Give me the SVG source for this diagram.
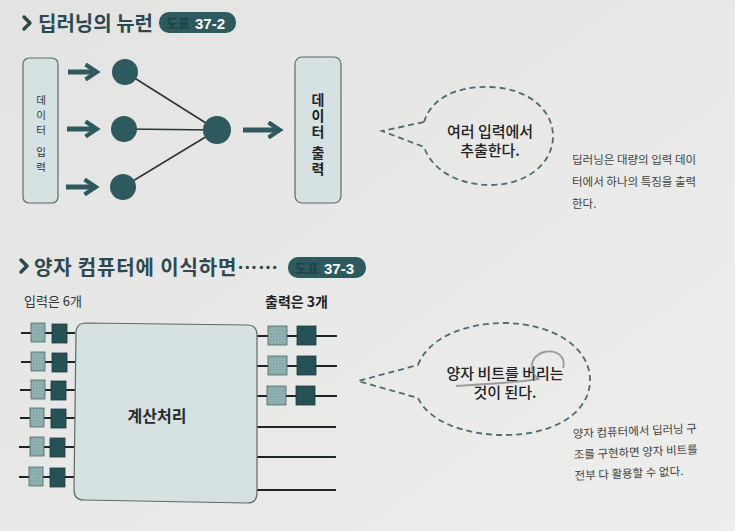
<svg xmlns="http://www.w3.org/2000/svg" width="735" height="531" viewBox="0 0 735 531">
<defs>
<linearGradient id="bg" x1="0" y1="0" x2="1" y2="1">
<stop offset="0" stop-color="#e3e3e1"/>
<stop offset="1" stop-color="#eeeeec"/>
</linearGradient>
<pattern id="dots" width="3" height="3" patternUnits="userSpaceOnUse">
<rect width="3" height="3" fill="#8fb3b2"/>
<rect width="1.5" height="1.5" fill="#7fa3a3"/>
</pattern>
<marker id="ah" viewBox="0 0 10 10" refX="6" refY="5" markerWidth="3.8" markerHeight="3.8" orient="auto" markerUnits="strokeWidth">
<path d="M1 1 L7 5 L1 9" fill="none" stroke="#2d5a5e" stroke-width="2.2" stroke-linejoin="miter"/>
</marker>
</defs>
<style>
.t{font-family:"Noto Sans CJK KR","Noto Sans",sans-serif;}
.title{font-size:20px;font-weight:700;fill:#2b4a4f;}
.bdg{fill:#2d5a5e;}
.bt1{font-size:13px;font-weight:700;fill:#1f4347;}
.bt2{font-size:15px;font-weight:700;fill:#ffffff;font-family:"Liberation Sans",Arial,sans-serif;}
.chev{fill:none;stroke:#2b4a4f;stroke-width:3.5;stroke-linecap:round;stroke-linejoin:round;}
.box{fill:#d6e2e2;stroke:#5c6b6d;stroke-width:1.2;}
.node{fill:#2d5a5e;}
.wire{stroke:#2a3436;stroke-width:1.5;fill:none;}
.fat{stroke:#2d5a5e;stroke-width:5;fill:none;marker-end:url(#ah);}
.bubble{fill:none;stroke:#4d6b70;stroke-width:1.8;stroke-dasharray:6 4;}
.btxt{font-size:15px;font-weight:500;fill:#222;text-anchor:middle;}
.cap{font-size:11.5px;fill:#444;}
.lq{fill:url(#dots);stroke:#4c6668;stroke-width:0.8;}
.dq{fill:#245256;stroke:#1d3c3f;stroke-width:0.8;}
.line{stroke:#1e2526;stroke-width:2;}
.vert{writing-mode:vertical-rl;}
</style>
<rect width="735" height="531" fill="url(#bg)"/>

<g id="title1">
<path class="chev" d="M24 17 L30 23 L24 29"/>
<text class="t title" x="38" y="31">딥러닝의 뉴런</text>
<rect class="bdg" x="159" y="12" width="77" height="21" rx="10"/>
<text class="t bt1" x="166" y="28">도표</text>
<text class="t bt2" x="195" y="29">37-2</text>
</g>

<g id="input-box">
<rect class="box" x="23" y="58" width="35" height="145" rx="6"/>
<text class="t vert" x="41" y="95" font-size="10.5" fill="#333" letter-spacing="4.5">데이터 입력</text>
</g>

<g id="output-box">
<rect class="box" x="295" y="57" width="46" height="146" rx="7"/>
<text class="t vert" x="318" y="93" font-size="14" font-weight="700" fill="#222" letter-spacing="2">데이터 출력</text>
</g>

<g id="connectors">
<line class="wire" x1="125" y1="72" x2="217" y2="130"/>
<line class="wire" x1="124" y1="129" x2="217" y2="130"/>
<line class="wire" x1="123" y1="187" x2="217" y2="130"/>
<line class="fat" x1="68" y1="72" x2="95" y2="72"/>
<line class="fat" x1="67" y1="129" x2="95" y2="129"/>
<line class="fat" x1="66" y1="187" x2="94" y2="187"/>
<line class="fat" x1="243" y1="130" x2="278" y2="130"/>
</g>

<g id="neuron-in1"><circle class="node" cx="125" cy="72" r="13"/></g>
<g id="neuron-in2"><circle class="node" cx="124" cy="129" r="13"/></g>
<g id="neuron-in3"><circle class="node" cx="123" cy="187" r="13"/></g>
<g id="neuron-out"><circle class="node" cx="217" cy="130" r="14"/></g>

<g id="bubble1">
<path class="bubble" d="M424 122 C432 96 460 86 490 87 C528 88 553 110 553 136 C553 164 526 185 490 185 C458 185 432 170 424 147 L382 131 Z"/>
<text class="t btxt" x="490" y="137">여러 입력에서</text>
<text class="t btxt" x="490" y="156">추출한다.</text>
</g>

<g id="caption1" class="t cap">
<text x="572" y="164">딥러닝은 대량의 입력 데이</text>
<text x="572" y="186">터에서 하나의 특징을 출력</text>
<text x="572" y="208">한다.</text>
</g>

<g id="title2">
<path class="chev" d="M21 260 L27 266 L21 272"/>
<text class="t title" x="34" y="275" textLength="244" lengthAdjust="spacing">양자 컴퓨터에 이식하면……</text>
<rect class="bdg" x="288" y="257" width="78" height="21" rx="10"/>
<text class="t bt1" x="295" y="273">도표</text>
<text class="t bt2" x="324" y="274">37-3</text>
</g>

<g id="labels" class="t">
<text x="24" y="306" font-size="13" fill="#333">입력은 6개</text>
<text x="265" y="307" font-size="14" font-weight="700" fill="#222">출력은 3개</text>
</g>

<g id="inputs">
<line class="line" x1="21" y1="333" x2="75" y2="333"/>
<line class="line" x1="21" y1="362" x2="75" y2="362"/>
<line class="line" x1="20" y1="390" x2="75" y2="390"/>
<line class="line" x1="20" y1="418" x2="75" y2="418"/>
<line class="line" x1="19" y1="447" x2="75" y2="447"/>
<line class="line" x1="19" y1="477" x2="75" y2="477"/>
<rect class="lq" x="31" y="323" width="14" height="19"/><rect class="dq" x="52" y="324" width="15" height="19"/>
<rect class="lq" x="31" y="352" width="14" height="19"/><rect class="dq" x="52" y="353" width="15" height="19"/>
<rect class="lq" x="31" y="380" width="14" height="19"/><rect class="dq" x="51" y="381" width="15" height="19"/>
<rect class="lq" x="30" y="408" width="14" height="19"/><rect class="dq" x="51" y="409" width="15" height="19"/>
<rect class="lq" x="30" y="437" width="14" height="19"/><rect class="dq" x="50" y="438" width="15" height="19"/>
<rect class="lq" x="29" y="467" width="14" height="19"/><rect class="dq" x="50" y="468" width="15" height="19"/>
</g>

<g id="outputs">
<line class="line" x1="257" y1="336" x2="337" y2="336"/>
<line class="line" x1="257" y1="366" x2="337" y2="366"/>
<line class="line" x1="257" y1="396" x2="337" y2="396"/>
<line class="line" x1="256" y1="427" x2="336" y2="427"/>
<line class="line" x1="256" y1="457" x2="336" y2="457"/>
<line class="line" x1="256" y1="490" x2="336" y2="490"/>
<rect class="lq" x="268" y="326" width="19" height="19"/><rect class="dq" x="297" y="326" width="19" height="19"/>
<rect class="lq" x="268" y="356" width="19" height="19"/><rect class="dq" x="297" y="356" width="19" height="19"/>
<rect class="lq" x="267" y="386" width="19" height="19"/><rect class="dq" x="296" y="386" width="19" height="19"/>
</g>

<g id="compute">
<path class="box" d="M86 323 L247 325 Q257 325 257 335 L257 493 Q257 503 247 503 L84 500 Q74 500 74 490 L76 333 Q76 323 86 323 Z"/>
<text class="t" x="157" y="422" font-size="16" font-weight="700" fill="#2a2a2a" text-anchor="middle">계산처리</text>
</g>

<g id="bubble2">
<path class="bubble" d="M418 365 C428 338 465 323 505 323 C555 324 590 348 590 380 C590 414 552 435 505 435 C462 435 428 420 418 398 L358 381 Z"/>
<text class="t btxt" x="505" y="379">양자 비트를 버리는</text>
<text class="t btxt" x="505" y="398">것이 된다.</text>
<path d="M456 386 C490 384 522 382 538 379 C530 372 528 357 544 352 C558 349 566 358 563 368" fill="none" stroke="#7a7a7a" stroke-width="1.9" opacity="0.7"/>
</g>

<g id="caption2" class="t cap" font-size="12" transform="rotate(-2.5 573 438)">
<text x="573" y="438">양자 컴퓨터에서 딥러닝 구</text>
<text x="573" y="459">조를 구현하면 양자 비트를</text>
<text x="573" y="480">전부 다 활용할 수 없다.</text>
</g>
</svg>
